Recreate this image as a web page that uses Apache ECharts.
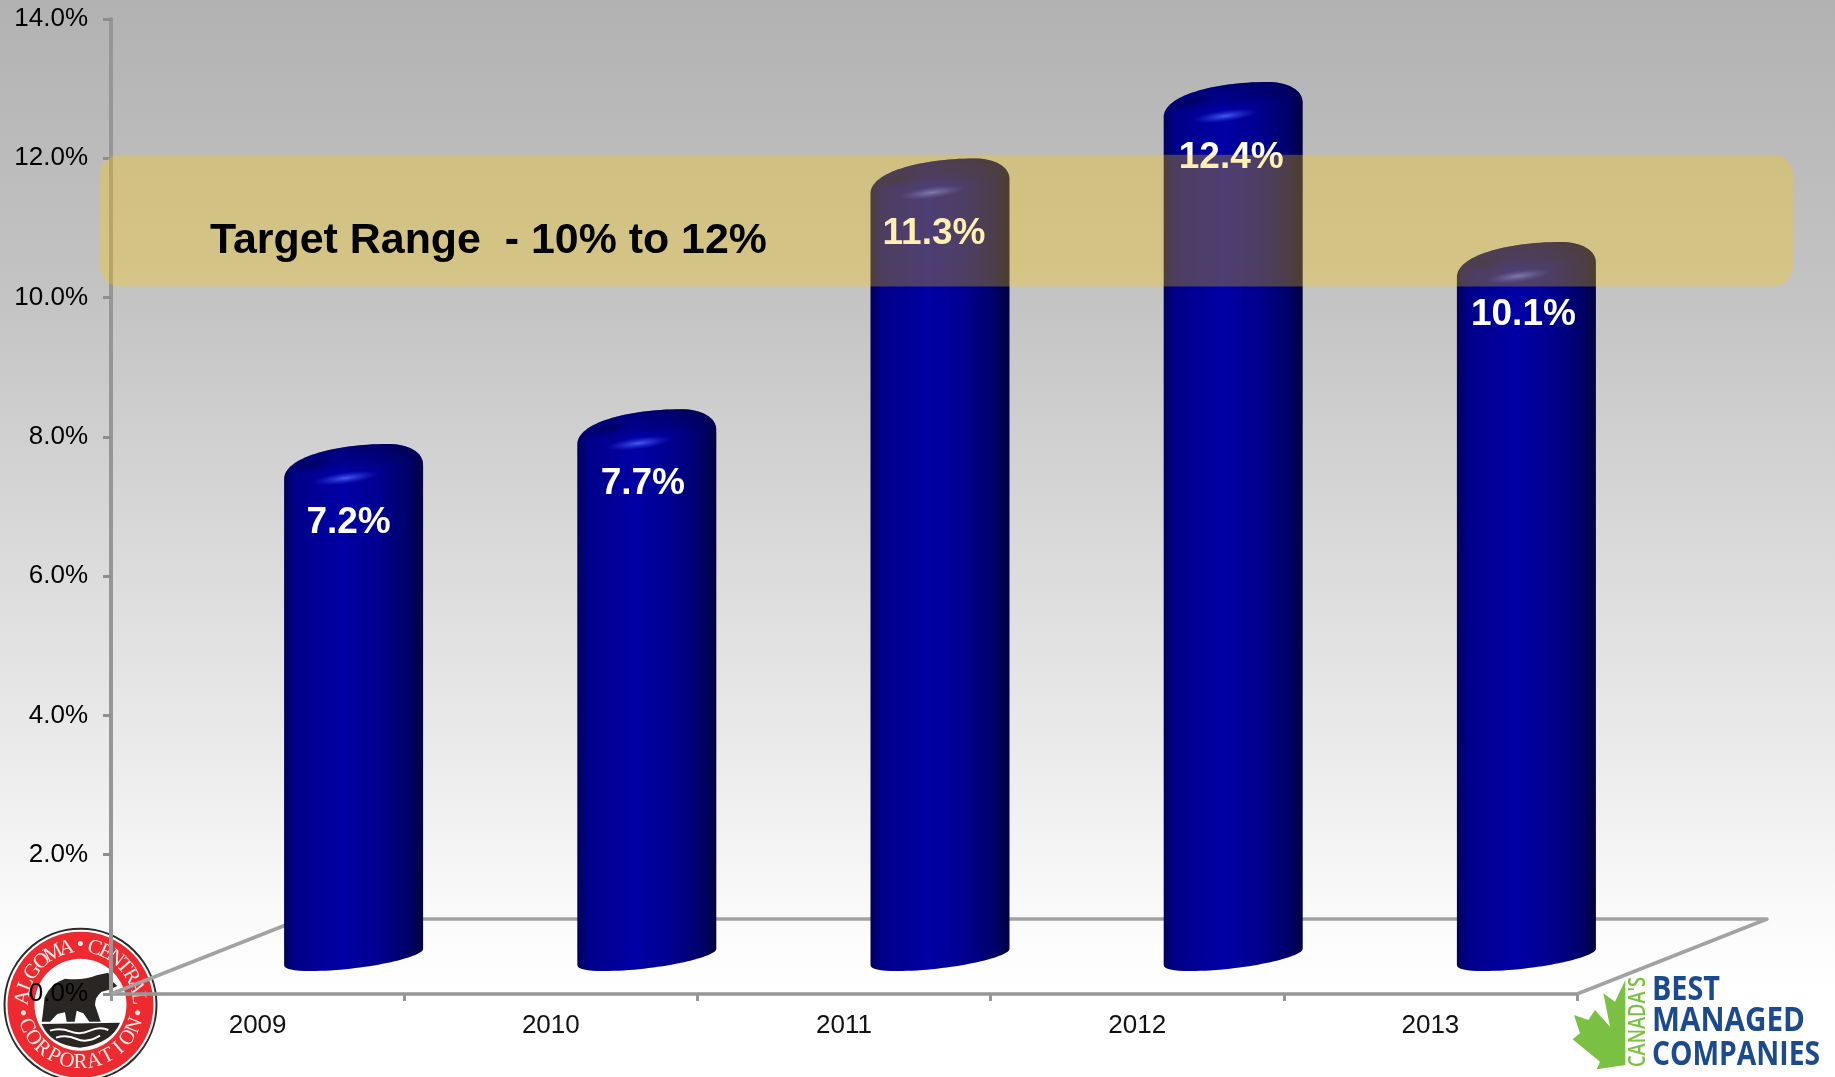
<!DOCTYPE html>
<html>
<head>
<meta charset="utf-8">
<title>Return on equity</title>
<style>html,body{margin:0;padding:0;background:#fff}#c{width:1835px;height:1077px}</style>
<script src="https://cdn.jsdelivr.net/npm/echarts@6/dist/echarts.min.js"></script>
</head>
<body>
<div id="c"></div>
<script>
const years = ['2009', '2010', '2011', '2012', '2013'];
const returns = [7.2, 7.7, 11.3, 12.4, 10.1];
const targetLabel = 'Target Range  - 10% to 12%';
const targetBand = [10.16, 12.05];
const axisMin = 0, axisMax = 14, axisStep = 2;

const SANS = '"Liberation Sans", Arial, sans-serif';
const AXIS_GREY = '#969696';

// Depth of the pseudo-3D floor and the cylinder placement on it
const DEPTH = { x: 190, y: 75 };
const CYL = { dx: 96, dy: -34, half: 69.5 };
const LABEL_NUDGE = [[-5, 5], [-4, 1], [-6, 2], [-2, 2], [-3, -1]];

const measure = document.createElement('canvas').getContext('2d');
function fitScale(text, font, width) {
  measure.font = font;
  return width / measure.measureText(text).width;
}

function softSpot(x, y, r, stretch, rotation, inner, outer) {
  return {
    type: 'circle', x, y, rotation, scaleX: stretch,
    shape: { cx: 0, cy: 0, r },
    style: {
      fill: {
        type: 'radial', x: 0.5, y: 0.5, r: 0.5,
        colorStops: [{ offset: 0, color: inner }, { offset: 1, color: outer }]
      }
    }
  };
}

function cylinder(params, api) {
  const i = api.value(0);
  const top = api.coord([i, api.value(1)]);
  const base = api.coord([i, 0]);
  const cx = top[0] + CYL.dx, yt = top[1] + CYL.dy + 1.5, yb = base[1] + CYL.dy, h = CYL.half;
  const body =
    `M${cx - h},${yt + 19}C${cx - h},${yt - 2},${cx - 20},${yt - 16},${cx + 34},${yt - 16}` +
    `C${cx + 55},${yt - 16},${cx + h},${yt - 8},${cx + h},${yt + 5}` +
    `L${cx + h},${yb - 11}C${cx + h},${yb - 3},${cx + 10},${yb + 11},${cx - 43},${yb + 11}` +
    `C${cx - 60},${yb + 11},${cx - h},${yb + 9},${cx - h},${yb + 5}Z`;
  const rim =
    `M${cx - h},${yt + 19}C${cx - h},${yt - 2},${cx - 20},${yt - 16},${cx + 34},${yt - 16}` +
    `C${cx + 55},${yt - 16},${cx + h},${yt - 8},${cx + h},${yt + 5}` +
    `C${cx + 40},${yt + 2},${cx},${yt + 4},${cx - h},${yt + 19}Z`;
  const n = LABEL_NUDGE[i];
  return {
    type: 'group',
    children: [
      {
        type: 'path',
        shape: { pathData: body },
        style: {
          fill: {
            type: 'linear', x: 0, y: 0, x2: 1, y2: 0,
            colorStops: [
              { offset: 0, color: '#000058' },
              { offset: 0.07, color: '#000088' },
              { offset: 0.42, color: '#0000a6' },
              { offset: 0.68, color: '#000090' },
              { offset: 0.9, color: '#000068' },
              { offset: 1, color: '#000040' }
            ]
          }
        }
      },
      {
        type: 'path',
        shape: { pathData: rim },
        style: {
          fill: {
            type: 'linear', x: 0, y: 0, x2: 0, y2: 1,
            colorStops: [
              { offset: 0, color: 'rgba(0,0,70,0.55)' },
              { offset: 1, color: 'rgba(0,0,120,0.15)' }
            ]
          }
        }
      },
      softSpot(cx - 42, yt + 4, 6, 4, 0.2, 'rgba(0,0,70,0.6)', 'rgba(0,0,70,0)'),
      softSpot(cx - 8, yt + 18, 6, 5.5, 0.13, 'rgba(75,95,245,0.95)', 'rgba(40,50,220,0)'),
      {
        type: 'text',
        style: {
          x: cx + n[0], y: top[1] + 25 + n[1], text: returns[i].toFixed(1) + '%',
          fill: '#ffffff', font: `bold 37px ${SANS}`, align: 'center', verticalAlign: 'middle'
        }
      }
    ]
  };
}

function floor(params) {
  const g = params.coordSys;
  const x0 = g.x, x1 = g.x + g.width, y0 = g.y + g.height;
  return {
    type: 'path',
    shape: {
      pathData: `M${x0},${y0}L${x0 + DEPTH.x},${y0 - DEPTH.y}L${x1 + DEPTH.x},${y0 - DEPTH.y}L${x1},${y0}`
    },
    style: { stroke: '#a2a2a2', lineWidth: 3.5, fill: 'none', lineJoin: 'round' }
  };
}

function band(params, api) {
  const hi = api.coord([0, targetBand[1]])[1];
  const lo = api.coord([0, targetBand[0]])[1];
  const g = params.coordSys;
  return {
    type: 'rect',
    shape: { x: g.x - 11, y: hi, width: g.width + 227, height: lo - hi, r: 20 },
    style: { fill: 'rgba(255,205,0,0.3)' }
  };
}

function bandText(params, api) {
  const g = params.coordSys;
  const hi = api.coord([0, targetBand[1]])[1];
  return {
    type: 'text',
    style: {
      x: g.x + 99, y: hi + 86, text: targetLabel,
      fill: '#000', font: `bold 42.9px ${SANS}`, align: 'left', verticalAlign: 'middle'
    }
  };
}

// Arc of single glyphs around a seal; angles are in degrees, counter-clockwise from east
function arcGlyphs(text, c, r, start, step, bottom, font, fill) {
  return Array.from(text).map((ch, k) => {
    const a = start + k * step;
    const rad = a * Math.PI / 180;
    return {
      type: 'text',
      x: c[0] + r * Math.cos(rad),
      y: c[1] - r * Math.sin(rad),
      rotation: (a - (bottom ? 270 : 90)) * Math.PI / 180,
      style: { x: 0, y: 0, text: ch, font, fill, align: 'center', verticalAlign: 'middle' }
    };
  });
}

function seal() {
  const c = [80.5, 1004.7];
  const serif = '21px "Liberation Serif", serif';
  const ink = '#2a2624';
  const glyph = '#fdeae4';
  const circle = (r, fill, stroke, w) => ({
    type: 'circle', shape: { cx: c[0], cy: c[1], r }, style: { fill, stroke, lineWidth: w || 0 }
  });
  return {
    type: 'group',
    children: [
      circle(76, '#fff', '#2a2a2a', 2),
      circle(73, '#ed2a30'),
      circle(46, '#fff'),
      ...arcGlyphs('ALGOMA', c, 58, 173, -13.8, false, serif, glyph),
      ...arcGlyphs('•', c, 59, 90, 0, false, serif, glyph),
      ...arcGlyphs('CENTRAL', c, 58, 76, -11.6, false, serif, glyph),
      ...arcGlyphs('•', c, 59, 188, 0, true, serif, glyph),
      ...arcGlyphs('CORPORATION', c, 58, 201, 13.8, true, serif, glyph),
      ...arcGlyphs('•', c, 59, 352, 0, true, serif, glyph),
      {
        type: 'group', x: 0, y: 880, scaleX: 1 / 3, scaleY: 1 / 3,
        children: [
          {
            type: 'path',
            shape: {
              pathData: 'M128,405L134,352Q150,312 195,296Q250,302 290,286L325,278L335,302L352,318L325,330' +
                'L305,335Q285,350 285,375L302,425L268,425L250,400L230,392L224,425L200,425L195,397L172,402' +
                'L150,425L125,425Z'
            },
            style: { fill: ink }
          },
          {
            type: 'path',
            shape: { pathData: 'M125,432L360,428Q335,490 240,503Q150,495 125,432Z' },
            style: { fill: ink }
          },
          {
            type: 'path',
            shape: { pathData: 'M150,452Q180,442 210,454T270,452T325,450M168,473Q200,463 230,477T300,467' },
            style: { fill: 'none', stroke: '#fff', lineWidth: 6 }
          }
        ]
      }
    ]
  };
}

function award() {
  const navy = '#1b4a8d';
  const green = '#7ac143';
  const face = `700 34px "Open Sans", sans-serif`;
  const word = (text, y, width) => ({
    type: 'text', x: 1652, y, scaleX: fitScale(text, face, width),
    style: { x: 0, y: 0, text, font: face, fill: navy, align: 'left', verticalAlign: 'middle' }
  });
  const small = `600 23px "Open Sans", sans-serif`;
  return {
    type: 'group',
    children: [
      {
        type: 'group', x: 1500, y: 880, scaleX: 1 / 3, scaleY: 1 / 3,
        children: [{
          type: 'path',
          shape: {
            pathData: 'M376,300L345,365L310,340L330,440L285,390L265,420L222,405L240,460L218,478' +
              'L300,545L290,568L376,555Z'
          },
          style: { fill: green }
        }]
      },
      {
        type: 'text', x: 1638, y: 1022, rotation: Math.PI / 2, scaleX: fitScale("CANADA'S", small, 90),
        style: { x: 0, y: 0, text: "CANADA'S", font: small, fill: green, align: 'center', verticalAlign: 'middle' }
      },
      word('BEST', 990, 68),
      word('MANAGED', 1021.5, 153),
      word('COMPANIES', 1055, 168)
    ]
  };
}

const option = {
  animation: false,
  backgroundColor: {
    type: 'linear', x: 0, y: 0, x2: 0, y2: 1,
    colorStops: [
      { offset: 0, color: '#b2b2b2' },
      { offset: 0.28, color: '#c4c4c4' },
      { offset: 0.5, color: '#d9d9d9' },
      { offset: 0.7, color: '#ebebeb' },
      { offset: 0.85, color: '#fafafa' },
      { offset: 0.92, color: '#ffffff' },
      { offset: 1, color: '#ffffff' }
    ]
  },
  grid: { left: 111, right: 258, top: 19, bottom: 83 },
  xAxis: {
    type: 'category',
    data: years,
    axisLine: { lineStyle: { color: AXIS_GREY, width: 3.5 } },
    axisTick: { show: true, length: 7, lineStyle: { color: AXIS_GREY, width: 3 } },
    axisLabel: { color: '#111', fontFamily: SANS, fontSize: 26, margin: 19 },
    splitLine: { show: false }
  },
  yAxis: {
    type: 'value',
    min: axisMin, max: axisMax, interval: axisStep,
    axisLine: { show: true, lineStyle: { color: AXIS_GREY, width: 4 } },
    axisTick: { show: true, length: 8, lineStyle: { color: '#8e8e8e', width: 3 } },
    axisLabel: {
      color: '#000', fontFamily: SANS, fontSize: 26, margin: 23,
      padding: [6, 0, 0, 0],
      formatter: v => v.toFixed(1) + '%'
    },
    splitLine: { show: false }
  },
  tooltip: { show: false },
  series: [
    { type: 'custom', coordinateSystem: 'none', z: -2, silent: true, data: [0], renderItem: seal },
    { type: 'custom', coordinateSystem: 'none', z: 1, silent: true, data: [0], renderItem: award },
    { type: 'custom', z: 1, silent: true, data: [[0, 0]], renderItem: floor, clip: false },
    {
      type: 'custom', z: 2, silent: true, clip: false,
      data: returns.map((v, i) => [i, v]),
      encode: { x: 0, y: 1 },
      renderItem: cylinder
    },
    { type: 'custom', z: 3, silent: true, clip: false, data: [[0, 0]], renderItem: band },
    { type: 'custom', z: 4, silent: true, clip: false, data: [[0, 0]], renderItem: bandText }
  ]
};

echarts.init(document.getElementById('c'), null, { renderer: 'canvas' }).setOption(option);
</script>
</body>
</html>
